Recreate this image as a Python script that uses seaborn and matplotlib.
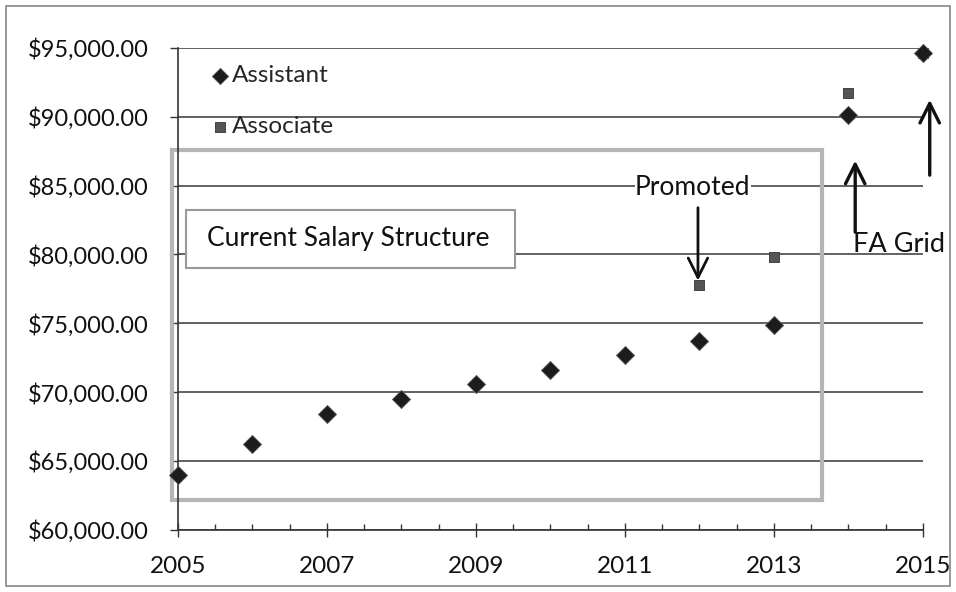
import matplotlib
matplotlib.use("Agg")
import matplotlib.pyplot as plt
import seaborn as sns
import pandas as pd
from matplotlib.patches import Rectangle, FancyArrowPatch
from matplotlib.ticker import MultipleLocator, FuncFormatter, FixedLocator

assistant_years = [2005, 2006, 2007, 2008, 2009, 2010, 2011, 2012, 2013, 2014, 2015]
assistant_salary = [64000, 66200, 68400, 69500, 70600, 71600, 72700, 73700, 74900, 90100, 94600]
associate_years = [2012, 2013, 2014, 2015]
associate_salary = [77800, 79800, 91700, 94600]
x_ticks = [2005, 2007, 2009, 2011, 2013, 2015]

df = pd.DataFrame({
    "Year": assistant_years + associate_years,
    "Salary": assistant_salary + associate_salary,
    "Rank": ["Assistant"] * len(assistant_years) + ["Associate"] * len(associate_years),
})

sns.set_theme(style="white")
plt.rcParams["font.family"] = ["Lato", "DejaVu Sans"]

fig = plt.figure(figsize=(9.56, 5.92), dpi=100)
ax = fig.add_axes([0.186, 0.105, 0.7795, 0.814])

sns.scatterplot(data=df[df.Rank == "Associate"], x="Year", y="Salary", marker="s", s=55,
                color="#555555", edgecolor="#333333", linewidth=0.6, ax=ax, label="Associate", zorder=3,
                clip_on=False)
sns.scatterplot(data=df[df.Rank == "Assistant"], x="Year", y="Salary", marker="D", s=85,
                color="#1c1c1c", edgecolor="#555555", linewidth=0.6, ax=ax, label="Assistant", zorder=4,
                clip_on=False)

ax.set_xlim(2005, 2015)
ax.set_ylim(60000, 95000)
ax.yaxis.set_major_locator(MultipleLocator(5000))
ax.xaxis.set_major_locator(FixedLocator(x_ticks))
ax.xaxis.set_minor_locator(MultipleLocator(0.5))
ax.yaxis.set_major_formatter(FuncFormatter(lambda v, p: f"${v:,.2f}"))
ax.xaxis.set_major_formatter(FuncFormatter(lambda v, p: f"{int(v)}"))
ax.set_xlabel("")
ax.set_ylabel("")
ax.grid(axis="y", color="#555555", linewidth=1.3)
ax.set_axisbelow(True)
for s in ["top", "right"]:
    ax.spines[s].set_visible(False)
for s in ["left", "bottom"]:
    ax.spines[s].set_color("#333333")
    ax.spines[s].set_linewidth(1.2)
ax.tick_params(axis="y", which="major", left=True, direction="out", length=6, width=1, color="#333333",
               labelsize=17, pad=15, labelcolor="#111111")
ax.tick_params(axis="x", which="major", bottom=True, direction="inout", length=10, width=1, color="#333333",
               labelsize=17.5, pad=14, labelcolor="#111111")
ax.tick_params(axis="x", which="minor", bottom=True, direction="in", length=4, width=1, color="#333333")

# legend (Assistant first)
h, l = ax.get_legend_handles_labels()
order = [l.index("Assistant"), l.index("Associate")]
ax.legend([h[i] for i in order], [l[i] for i in order], loc="upper left", bbox_to_anchor=(0.004, 1.01),
          frameon=False, fontsize=17.5, handletextpad=-0.2, labelspacing=1.25, markerscale=0.9,
          handlelength=1.4)

# Current salary structure box
ax.add_patch(Rectangle((2004.92, 62180), 8.72, 25420, fill=False, edgecolor="#b5b5b5", linewidth=3,
                       clip_on=False, zorder=2))
ax.add_patch(Rectangle((2005.11, 79030), 4.41, 4210, facecolor="white", edgecolor="#999999", linewidth=1.5,
                       clip_on=False, zorder=5))
ax.text(2005.39, 81140, "Current Salary Structure", fontsize=19, va="center", ha="left", color="#111111", zorder=6)

# Promoted
ax.text(2011.91, 84840, "Promoted", fontsize=19, va="center", ha="center", color="#111111",
        bbox=dict(facecolor="white", edgecolor="none", pad=0), zorder=6)
ax.add_patch(FancyArrowPatch((2011.98, 83600), (2011.98, 77900), arrowstyle="->,head_length=0.7,head_width=0.35",
                             mutation_scale=20, color="#111111", linewidth=2, zorder=6))

# FA Grid
ax.text(2014.06, 80700, "FA Grid", fontsize=19.5, va="center", ha="left", color="#111111", clip_on=False, zorder=6)
ax.add_patch(FancyArrowPatch((2014.09, 81420), (2014.09, 87020), arrowstyle="->,head_length=0.7,head_width=0.35",
                             mutation_scale=20, color="#111111", linewidth=2.4, clip_on=False, zorder=6))
ax.add_patch(FancyArrowPatch((2015.09, 85560), (2015.09, 91440), arrowstyle="->,head_length=0.7,head_width=0.35",
                             mutation_scale=20, color="#111111", linewidth=2.4, clip_on=False, zorder=6))

# outer border
fig.patches.append(Rectangle((0.006, 0.01), 0.988, 0.98, transform=fig.transFigure, fill=False,
                             edgecolor="#888888", linewidth=1.2))

fig.savefig("out.png", dpi=100)
